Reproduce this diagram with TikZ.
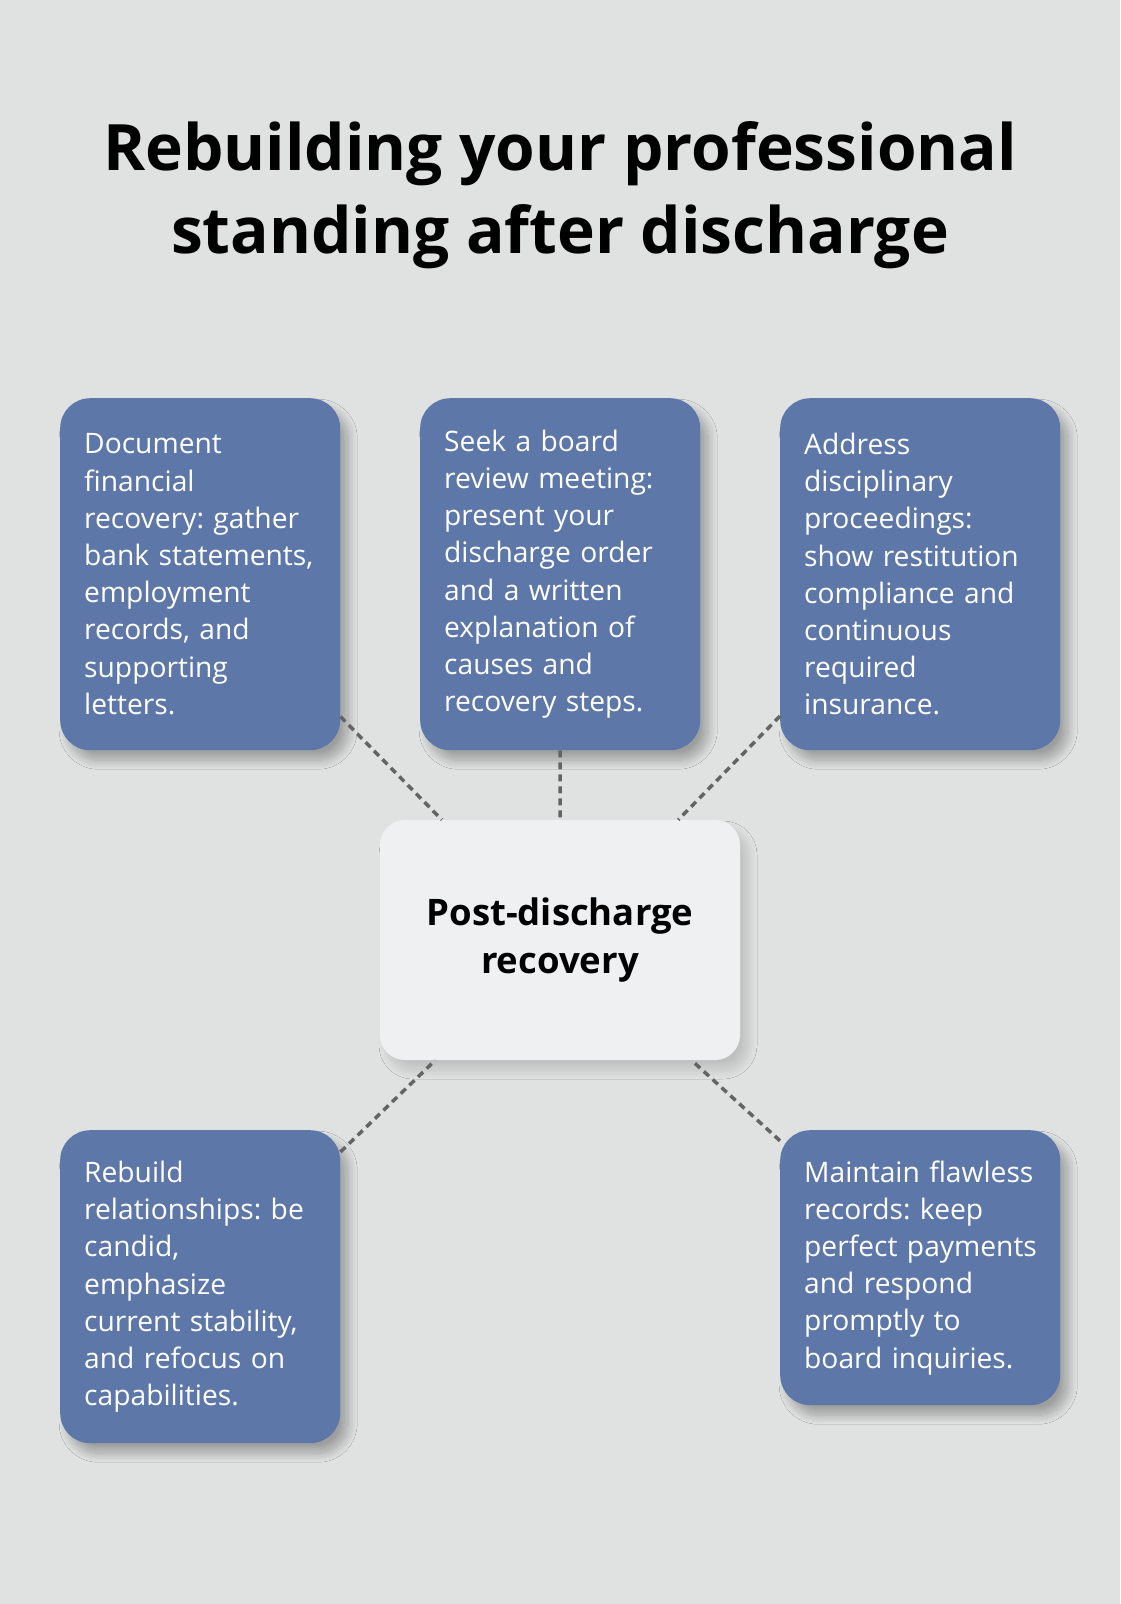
\documentclass[tikz,border=0pt]{standalone}
\usepackage{fontspec}
\setmainfont{Open Sans}
\usetikzlibrary{positioning, shadows.blur, backgrounds}
\definecolor{pagegray}{RGB}{224,226,225}
\definecolor{tipblue}{RGB}{93,119,168}
\definecolor{hubwhite}{RGB}{239,240,242}
\definecolor{linkgray}{RGB}{100,100,100}
\frenchspacing
\hyphenpenalty=10000
\exhyphenpenalty=10000
\hbadness=10000
\hfuzz=40pt

\begin{document}
\begin{tikzpicture}[
    x=1pt, y=-1pt,
    tipbox/.style={fill=tipblue, rounded corners=30pt, text=white, anchor=north west,
        minimum width=280pt, text width=232pt, inner xsep=24pt, inner ysep=0pt, align=left,
        font=\fontsize{28.2}{37.2}\selectfont,
        blur shadow={shadow xshift=8pt, shadow yshift=-10pt, shadow blur radius=9pt,
            shadow blur steps=16, shadow opacity=30}},
    hub/.style={fill=hubwhite, rounded corners=25pt, minimum width=360pt, minimum height=240pt,
        align=center, font=\fontsize{36.5}{48}\selectfont\bfseries,
        blur shadow={shadow xshift=8pt, shadow yshift=-10pt, shadow blur radius=9pt,
            shadow blur steps=16, shadow opacity=15}},
    link/.style={draw=linkgray, line width=3.5pt, dash pattern=on 7pt off 5pt}
]
    % Page
    \fill[pagegray] (0,0) rectangle (1120,1604);
    \useasboundingbox (0,0) rectangle (1120,1604);

    % Title
    \node[font=\fontsize{64}{83}\selectfont\bfseries, align=center] (title) at (560,195)
        {Rebuilding your professional\\standing after discharge};

    % Steps (top row)
    \node[tipbox, minimum height=352pt] (docs) at (60,398)
        {Document\\financial\\recovery: gather\\bank~statements,\\employment\\records, and\\supporting\\letters.};
    \node[tipbox, minimum height=352pt] (board) at (420,398)
        {Seek a board\\review~meeting:\\present your\\discharge~order\\and a written\\explanation~of\\causes and\\recovery~steps.};
    \node[tipbox, minimum height=352pt] (disc) at (780,398)
        {Address\\disciplinary\\proceedings:\\show~restitution\\compliance~and\\continuous\\required\\insurance.};

    % Steps (bottom row)
    \node[tipbox, minimum height=313pt] (rel) at (60,1130)
        {Rebuild\\relationships:~be\\candid,\\emphasize\\current~stability,\\and refocus on\\capabilities.};
    \node[tipbox, minimum height=275pt] (rec) at (780,1130)
        {Maintain~flawless\\records: keep\\perfect~payments\\and respond\\promptly to\\board~inquiries.};

    % Central hub
    \node[hub] (hub) at (560,940) {Post-discharge\\recovery};

    % Connections
    \draw[link] (docs) -- (hub);
    \draw[link] (board) -- (hub);
    \draw[link] (disc) -- (hub);
    \draw[link] (rel) -- (hub);
    \draw[link] (rec) -- (hub);
\end{tikzpicture}
\end{document}
